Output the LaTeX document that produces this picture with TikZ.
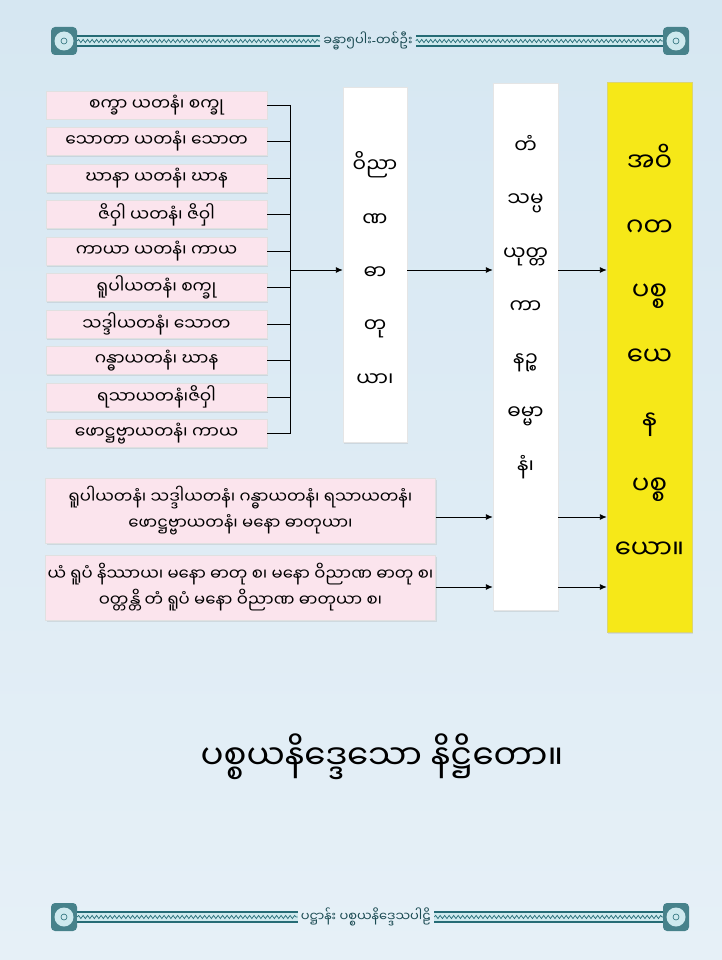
\documentclass[tikz,border=0pt]{standalone}
\usepackage{fontspec}
\newfontfamily\mmfont[Script=Myanmar]{Noto Sans Myanmar UI}
\newfontfamily\dashfont{Noto Sans}
\usetikzlibrary{shadows,decorations.pathmorphing,arrows.meta}
\definecolor{bgtop}{RGB}{214,231,242}
\definecolor{bgbottom}{RGB}{230,240,247}
\definecolor{boxpink}{RGB}{251,228,237}
\definecolor{boxyellow}{RGB}{246,232,24}
\definecolor{bandteal}{RGB}{38,108,118}
\definecolor{bandlight}{RGB}{206,233,238}

\begin{document}
\begin{tikzpicture}[x=1pt,y=-1pt,
    conn/.style={line width=0.9pt},
    >={Latex[length=7pt,width=6pt]},
    leftbox/.style={fill=boxpink, draw=black!12, minimum width=221pt, minimum height=28pt,
        inner sep=0pt, font=\mmfont\fontsize{17}{20}\selectfont,
        drop shadow={opacity=0.18, shadow xshift=1pt, shadow yshift=-1.5pt}},
    widebox/.style={leftbox, minimum width=390pt, minimum height=65pt, align=center,
        font=\mmfont\fontsize{16.5}{26}\selectfont},
    colbox/.style={fill=white, draw=black!10, inner sep=0pt,
        drop shadow={opacity=0.18, shadow xshift=1pt, shadow yshift=-1.5pt}},
    coltext/.style={align=center, inner sep=0pt, font=\mmfont\fontsize{20}{53.3}\selectfont},
    ornbox/.style={rounded corners=4pt, fill=bandteal!85, minimum width=26pt, minimum height=28pt,
        path picture={\fill[bandlight] (path picture bounding box.center) circle (9.5pt);
            \draw[bandteal, line width=0.6pt] (path picture bounding box.center) circle (3pt);}},
    bandtext/.style={font=\mmfont\fontsize{13}{15}\selectfont, text=bandteal!70!black, inner sep=3pt}]

    % Background
    \useasboundingbox (0,0) rectangle (722,960);
    \shade[top color=bgtop, bottom color=bgbottom] (0,0) rectangle (722,960);

    % Header and footer bands
    \node[ornbox] (hdL) at (64,41) {};
    \node[ornbox] (hdR) at (676,41) {};
    \node[bandtext] (hdtxt) at (368,41) {ခန္ဓာ၅ပါး{\dashfont -}တစ်ဦး};
    \node[ornbox] (ftL) at (64,917) {};
    \node[ornbox] (ftR) at (676,917) {};
    \node[bandtext] (fttxt) at (366,917) {ပဋ္ဌာန်း ပစ္စယနိဒ္ဒေသပါဠိ};
    \foreach \a/\b in {hdL/hdtxt, hdtxt/hdR, ftL/fttxt, fttxt/ftR}{
        \draw[bandteal, line width=12pt] (\a.east) -- (\b.west);
        \draw[bandlight, line width=8pt] (\a.east) -- (\b.west);
        \draw[bandteal, line width=0.7pt, decorate,
            decoration={snake, amplitude=1.6pt, segment length=4.5pt}] (\a.east) -- (\b.west);
    }

    % Ayatana boxes
    \node[leftbox] (ayat1) at (156.5,105) {စက္ခာ ယတနံ၊ စက္ခု};
    \node[leftbox] (ayat2) at (156.5,141.5) {သောတာ ယတနံ၊ သောတ};
    \node[leftbox] (ayat3) at (156.5,178) {ဃာနာ ယတနံ၊ ဃာန};
    \node[leftbox] (ayat4) at (156.5,214.5) {ဇိဝှါ ယတနံ၊ ဇိဝှါ};
    \node[leftbox] (ayat5) at (156.5,251) {ကာယာ ယတနံ၊ ကာယ};
    \node[leftbox] (ayat6) at (156.5,287.5) {ရူပါယတနံ၊ စက္ခု};
    \node[leftbox] (ayat7) at (156.5,324) {သဒ္ဒါယတနံ၊ သောတ};
    \node[leftbox] (ayat8) at (156.5,360.5) {ဂန္ဓာယတနံ၊ ဃာန};
    \node[leftbox] (ayat9) at (156.5,397) {ရသာယတနံ၊ဇိဝှါ};
    \node[leftbox] (ayat10) at (156.5,433.5) {ဖောဋ္ဌဗ္ဗာယတနံ၊ ကာယ};

    % Lower boxes
    \node[widebox] (rupa) at (240.5,510.5) {ရူပါယတနံ၊ သဒ္ဒါယတနံ၊ ဂန္ဓာယတနံ၊ ရသာယတနံ၊\\ဖောဋ္ဌဗ္ဗာယတနံ၊ မနော ဓာတုယာ၊};
    \node[widebox] (yamrupa) at (240.5,587.5) {ယံ ရူပံ နိဿာယ၊ မနော ဓာတု စ၊ မနော ဝိညာဏ ဓာတု စ၊\\ဝတ္တန္တိ တံ ရူပံ မနော ဝိညာဏ ဓာတုယာ စ၊};

    % Columns
    \node[colbox, minimum width=64pt, minimum height=355pt] (vinnana) at (375,264.5) {};
    \node[colbox, minimum width=65pt, minimum height=527pt] (sampay) at (525.5,346.5) {};
    \node[colbox, fill=boxyellow, draw=boxyellow!80!black!60, minimum width=85pt, minimum height=550pt] (avigata) at (649.5,357) {};
    \node[coltext] (vinnanatxt) at (375,269) {ဝိညာ\\ဏ\\ဓာ\\တု\\ယာ၊};
    \node[coltext] (sampaytxt) at (525.5,307) {တံ\\သမ္ပ\\ယုတ္တ\\ကာ\\နဉ္စ\\ဓမ္မာ\\နံ၊};
    \node[coltext, font=\mmfont\fontsize{26}{64.5}\selectfont] (avigatatxt) at (649.5,351.5) {အဝိ\\ဂတ\\ပစ္စ\\ယေ\\န\\ပစ္စ\\ယော။};

    % Connectors
    \coordinate (brk) at (290,270);
    \coordinate (lowA) at (0,517);
    \coordinate (lowB) at (0,587);
    \foreach \i in {1,...,10}{
        \draw[conn] (ayat\i.east) -- (ayat\i.east -| brk);
    }
    \draw[conn] (ayat1.east -| brk) -- (ayat10.east -| brk);
    \draw[conn,->] (brk) -- (vinnana.west |- brk);
    \draw[conn,->] (vinnana.east |- brk) -- (sampay.west |- brk);
    \draw[conn,->] (sampay.east |- brk) -- (avigata.west |- brk);
    \draw[conn,->] (rupa.east |- lowA) -- (sampay.west |- lowA);
    \draw[conn,->] (yamrupa.east |- lowB) -- (sampay.west |- lowB);
    \draw[conn,->] (sampay.east |- lowA) -- (avigata.west |- lowA);
    \draw[conn,->] (sampay.east |- lowB) -- (avigata.west |- lowB);

    % Title
    \node[font=\mmfont\fontsize{34}{38}\selectfont] (title) at (382,757) {ပစ္စယနိဒ္ဒေသော နိဋ္ဌိတော။};
\end{tikzpicture}
\end{document}
